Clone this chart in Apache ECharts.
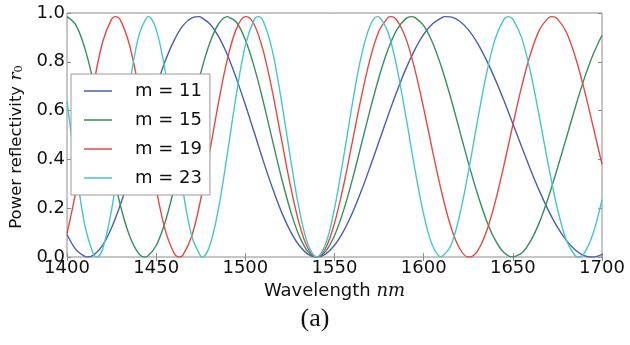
<!DOCTYPE html>
<html>
<head>
<meta charset="utf-8">
<script src="https://cdn.jsdelivr.net/npm/echarts@6/dist/echarts.min.js"></script>
<style>
html,body{margin:0;padding:0;background:#fff;}
#c{width:630px;height:345px;}
</style>
</head>
<body>
<div id="c"></div>
<script>
const wavelengths = [1400,1405,1410,1415,1420,1425,1430,1435,1440,1445,1450,1455,1460,1465,1470,1475,1480,1485,1490,1495,1500,1505,1510,1515,1520,1525,1530,1535,1540,1545,1550,1555,1560,1565,1570,1575,1580,1585,1590,1595,1600,1605,1610,1615,1620,1625,1630,1635,1640,1645,1650,1655,1660,1665,1670,1675,1680,1685,1690,1695,1700];
const seriesNames = ['m = 11','m = 15','m = 19','m = 23'];
const m11 = [0.092,0.030,0.002,0.008,0.049,0.120,0.216,0.329,0.453,0.578,0.696,0.802,0.887,0.948,0.980,0.983,0.956,0.903,0.827,0.731,0.624,0.510,0.395,0.287,0.189,0.109,0.049,0.012,0.000,0.012,0.048,0.105,0.180,0.270,0.370,0.474,0.579,0.679,0.771,0.849,0.912,0.956,0.980,0.984,0.967,0.932,0.879,0.810,0.730,0.641,0.546,0.451,0.357,0.269,0.190,0.122,0.068,0.029,0.006,0.000,0.011];
const m15 = [0.985,0.950,0.855,0.712,0.544,0.368,0.210,0.088,0.016,0.002,0.047,0.143,0.280,0.440,0.604,0.755,0.876,0.956,0.985,0.962,0.890,0.778,0.638,0.484,0.332,0.197,0.090,0.023,0.000,0.023,0.088,0.189,0.317,0.460,0.604,0.738,0.850,0.932,0.977,0.982,0.948,0.878,0.778,0.657,0.523,0.388,0.263,0.154,0.071,0.018,0.000,0.016,0.066,0.144,0.246,0.364,0.488,0.613,0.730,0.830,0.909];
const m19 = [0.096,0.271,0.491,0.710,0.882,0.975,0.970,0.870,0.698,0.487,0.279,0.112,0.016,0.008,0.087,0.237,0.431,0.635,0.813,0.936,0.985,0.952,0.846,0.684,0.492,0.302,0.142,0.037,0.000,0.036,0.139,0.291,0.472,0.654,0.813,0.927,0.981,0.970,0.896,0.770,0.609,0.434,0.268,0.130,0.037,0.000,0.022,0.100,0.222,0.376,0.541,0.700,0.835,0.932,0.980,0.976,0.921,0.821,0.688,0.535,0.380];
const m23 = [0.638,0.363,0.130,0.008,0.033,0.193,0.439,0.699,0.899,0.984,0.933,0.763,0.520,0.272,0.084,0.002,0.045,0.201,0.428,0.669,0.867,0.974,0.967,0.850,0.651,0.419,0.203,0.054,0.000,0.053,0.199,0.405,0.628,0.823,0.949,0.984,0.921,0.776,0.577,0.363,0.175,0.046,0.000,0.043,0.166,0.346,0.550,0.743,0.892,0.974,0.975,0.897,0.754,0.569,0.374,0.198,0.069,0.005,0.015,0.096,0.235];
const m11Extremes = [[1411.5,0.000],[1474.5,0.985],[1611.5,0.985],[1694,0.000]];
const m15Extremes = [[1443.7,0.000],[1490.3,0.985],[1593.2,0.985],[1650.1,0.000]];
const m19Extremes = [[1427.2,0.985],[1462.9,0.000],[1500.5,0.985],[1581.6,0.985],[1625.6,0.000],[1672.1,0.985]];
const m23Extremes = [[1416.7,0.000],[1445.6,0.985],[1475.8,0.000],[1507.2,0.985],[1574.3,0.985],[1610.1,0.000],[1647.6,0.985],[1686.8,0.000]];
const seriesValues = [m11, m15, m19, m23];
const seriesExtremes = [m11Extremes, m15Extremes, m19Extremes, m23Extremes];
const colors = ['#4b5eae','#388e5c','#e44a41','#47c6c9'];
const xTicks = [1400,1450,1500,1550,1600,1650,1700];
const yTicks = [0.0,0.2,0.4,0.6,0.8,1.0];

function buildData(vals, extremes){
  const pts = wavelengths.map((w,i)=>[w, vals[i]]).concat(extremes);
  pts.sort((a,b)=>a[0]-b[0]);
  return pts;
}

const chart = echarts.init(document.getElementById('c'), null, {renderer:'canvas'});
const font = 'DejaVu Sans';
const frame = '#8c8c8c';
const tickCommon = {show:true, inside:true, length:4, lineStyle:{color:frame, width:1}};
const option = {
  animation:false,
  backgroundColor:'#fff',
  color:colors,
  grid:{left:62, top:13, width:540, height:244, show:true, borderColor:frame, borderWidth:1, backgroundColor:'transparent'},
  legend:{
    orient:'vertical', left:71, top:74,
    data:seriesNames,
    icon:'rect', itemWidth:28, itemHeight:1.5, itemGap:9,
    backgroundColor:'#fff', borderColor:'#999', borderWidth:1, borderRadius:0,
    padding:[7,8,7,13],
    textStyle:{fontFamily:font, fontSize:18, color:'#111', lineHeight:20, padding:[0,0,0,18]}
  },
  xAxis:[{
    type:'value', min:1400, max:1700, interval:50,
    axisLine:{show:false}, axisTick:tickCommon, splitLine:{show:false},
    axisLabel:{fontFamily:font, fontSize:18, color:'#111', margin:2, formatter:v=>String(v)},
    name:'{a|Wavelength }{b|nm}', nameLocation:'middle', nameGap:22,
    nameTextStyle:{rich:{a:{fontFamily:font, fontSize:18, color:'#111'}, b:{fontFamily:'DejaVu Serif', fontStyle:'italic', fontSize:18, color:'#111'}}}
  },{
    type:'value', min:1400, max:1700, interval:50, position:'top',
    axisLine:{show:false}, axisTick:tickCommon, axisLabel:{show:false}, splitLine:{show:false}
  }],
  yAxis:[{
    type:'value', min:0, max:1, interval:0.2,
    axisLine:{show:false}, axisTick:tickCommon, splitLine:{show:false},
    axisLabel:{fontFamily:font, fontSize:18, color:'#111', margin:2, formatter:v=>v.toFixed(1)},
    name:'{a|Power reflectivity }{b|r}{c|0}', nameLocation:'middle', nameRotate:90, nameGap:36,
    nameTextStyle:{padding:[0,24,0,0], rich:{a:{fontFamily:font, fontSize:16.5, color:'#111'}, b:{fontFamily:'DejaVu Serif', fontStyle:'italic', fontSize:17, color:'#111'}, c:{fontFamily:'DejaVu Serif', fontSize:11.5, color:'#111', padding:[6,0,0,0]}}}
  },{
    type:'value', min:0, max:1, interval:0.2, position:'right',
    axisLine:{show:false}, axisTick:tickCommon, axisLabel:{show:false}, splitLine:{show:false}
  }],
  graphic:[{
    type:'text', left:'center', top:306,
    style:{text:'(a)', fontFamily:'Liberation Serif', fontSize:26, fill:'#111'}
  }],
  series: seriesNames.map((n,k)=>({
    name:n, type:'line', smooth:0.35, showSymbol:false, symbol:'none',
    lineStyle:{width:1.4, color:colors[k]}, itemStyle:{color:colors[k]},
    data: buildData(seriesValues[k], seriesExtremes[k])
  }))
};
chart.setOption(option);
</script>
</body>
</html>
